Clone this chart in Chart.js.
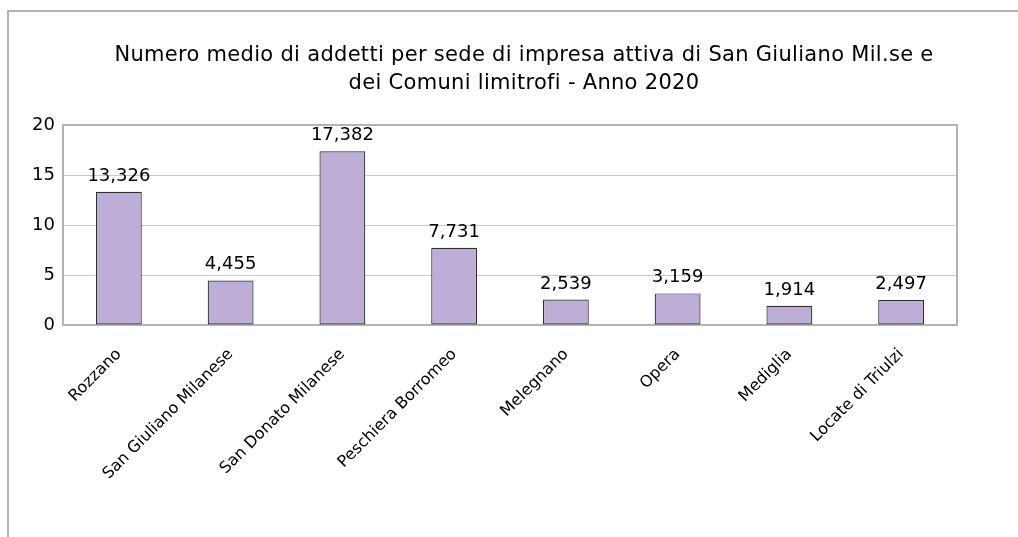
<!DOCTYPE html>
<html>
<head>
<meta charset="utf-8">
<script src="https://cdn.jsdelivr.net/npm/chart.js@4/dist/chart.umd.min.js"></script>
<style>
  html, body { margin: 0; padding: 0; background: #fff; }
  #wrap { width: 1018px; height: 537px; }
</style>
</head>
<body>
<div id="wrap"><canvas id="chart" width="1018" height="537"></canvas></div>
<script>
const comuni = ['Rozzano', 'San Giuliano Milanese', 'San Donato Milanese', 'Peschiera Borromeo',
  'Melegnano', 'Opera', 'Mediglia', 'Locate di Triulzi'];
const addettiMedi = [13.326, 4.455, 17.382, 7.731, 2.539, 3.159, 1.914, 2.497];
const titolo = ['Numero medio di addetti per sede di impresa attiva di San Giuliano Mil.se e',
  'dei Comuni limitrofi - Anno 2020'];
const yTicks = [0, 5, 10, 15, 20];

const FONT = "'DejaVu Sans', Verdana, sans-serif";
const GRID = '#c8c8c8';
const FRAME = '#b3b3b3';

// outer frame, plot frame and the two-line title
const decorations = {
  id: 'decorations',
  beforeDraw(chart) {
    const ctx = chart.ctx;
    ctx.save();
    ctx.strokeStyle = FRAME;
    ctx.lineWidth = 2;
    ctx.beginPath();
    ctx.moveTo(8, chart.height + 2);
    ctx.lineTo(8, 11);
    ctx.lineTo(chart.width + 2, 11);
    ctx.stroke();

    ctx.fillStyle = '#000';
    ctx.font = '21px ' + FONT;
    ctx.letterSpacing = '0.3px';
    ctx.textAlign = 'center';
    ctx.textBaseline = 'alphabetic';
    titolo.forEach((t, i) => ctx.fillText(t, 524, 61 + i * 28));
    ctx.restore();
  },
  beforeDatasetsDraw(chart) {
    const a = chart.chartArea;
    const ctx = chart.ctx;
    ctx.save();
    ctx.strokeStyle = FRAME;
    ctx.lineWidth = 2;
    ctx.strokeRect(a.left, a.top, a.right - a.left, a.bottom - a.top);
    ctx.restore();
  }
};

// value written above each bar, Italian decimal comma
const valueLabels = {
  id: 'valueLabels',
  afterDatasetsDraw(chart) {
    const ctx = chart.ctx;
    const meta = chart.getDatasetMeta(0);
    ctx.save();
    ctx.fillStyle = '#000';
    ctx.font = '18px ' + FONT;
    ctx.textAlign = 'center';
    ctx.textBaseline = 'alphabetic';
    meta.data.forEach((bar, i) => {
      const txt = addettiMedi[i].toFixed(3).replace('.', ',');
      ctx.fillText(txt, bar.x, bar.y - 11);
    });
    ctx.restore();
  }
};

new Chart(document.getElementById('chart'), {
  type: 'bar',
  data: {
    labels: comuni,
    datasets: [{
      data: addettiMedi,
      backgroundColor: '#bcaed6',
      borderColor: '#2e2e2e',
      borderWidth: 1.2,
      borderSkipped: false,
      categoryPercentage: 1,
      barPercentage: 0.41
    }]
  },
  options: {
    responsive: false,
    animation: false,
    events: [],
    layout: { padding: { left: 0, right: 61, top: 125, bottom: 0 } },
    plugins: { legend: { display: false }, title: { display: false }, tooltip: { enabled: false } },
    scales: {
      x: {
        grid: { display: false, drawTicks: false },
        border: { display: false },
        ticks: {
          color: '#000',
          font: { family: FONT, size: 16 },
          minRotation: 45,
          maxRotation: 45,
          padding: 20
        },
        afterFit(scale) { scale.height = 212; }
      },
      y: {
        min: 0,
        max: 20,
        afterBuildTicks(scale) { scale.ticks = yTicks.map(v => ({ value: v })); },
        grid: { color: GRID, lineWidth: 1, drawTicks: false },
        border: { display: false },
        ticks: {
          color: '#000',
          font: { family: FONT, size: 18 },
          padding: 8
        },
        afterFit(scale) { scale.width = 63; }
      }
    }
  },
  plugins: [decorations, valueLabels]
});
</script>
</body>
</html>
